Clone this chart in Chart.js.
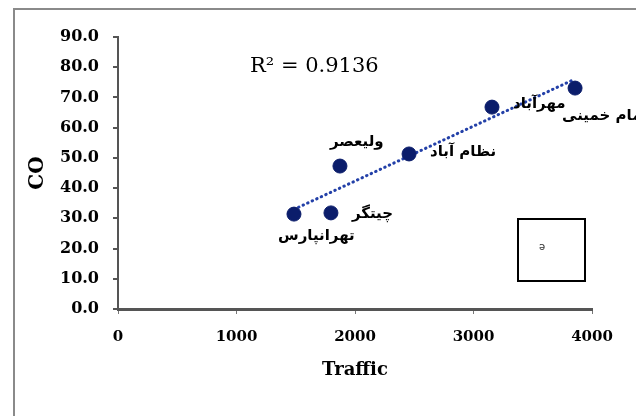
<!DOCTYPE html>
<html>
<head>
<meta charset="utf-8">
<script src="https://cdn.jsdelivr.net/npm/chart.js@4.4.0/dist/chart.umd.min.js"></script>
<style>
  html, body { margin: 0; padding: 0; background: #fff; }
  #wrap { width: 636px; height: 416px; position: relative; }
</style>
</head>
<body>
<div id="wrap"><canvas id="chart"></canvas></div>
<script>
// Data
const siteNames = ['تهرانپارس', 'چیتگر', 'ولیعصر', 'نظام آباد', 'مهرآباد', 'امام خمینی'];
const trafficValues = [1485, 1797, 1873, 2456, 3156, 3857];
const coValues = [31.4, 31.8, 47.3, 51.3, 66.8, 73.1];
const rSquaredText = 'R² = 0.9136';

// label offsets from each point (left edge, vertical centre), px
const labelOffsets = [[-16, 22], [21, 1], [-10, -24], [21, -2], [21, -3], [-13, 28]];

// Least squares trend line, like the spreadsheet trendline
const linearFit = (xs, ys) => {
    const n = xs.length;
    const mx = xs.reduce((a, b) => a + b, 0) / n;
    const my = ys.reduce((a, b) => a + b, 0) / n;
    let sxy = 0, sxx = 0;
    xs.forEach((x, i) => { sxy += (x - mx) * (ys[i] - my); sxx += (x - mx) * (x - mx); });
    const slope = sxy / sxx;
    return { slope, intercept: my - slope * mx };
};
const fit = linearFit(trafficValues, coValues);
const xMin = Math.min(...trafficValues), xMax = Math.max(...trafficValues);
const trendPoints = [xMin, xMax].map(x => ({ x, y: fit.slope * x + fit.intercept }));

const points = trafficValues.map((x, i) => ({ x, y: coValues[i] }));

const serif = '"DejaVu Serif", "Liberation Serif", serif';

// frame, R² text, site labels and the small box
const decorations = {
    id: 'decorations',
    beforeDraw(chart) {
        const ctx = chart.ctx;
        ctx.save();
        ctx.fillStyle = '#fff';
        ctx.fillRect(0, 0, chart.width, chart.height);
        ctx.strokeStyle = '#8a8a8a';
        ctx.lineWidth = 2;
        ctx.strokeRect(14, 9, 700, 500);
        ctx.restore();
    },
    afterDatasetsDraw(chart) {
        const ctx = chart.ctx;
        const xs = chart.scales.x, ys = chart.scales.y;
        ctx.save();
        ctx.fillStyle = '#000';
        ctx.font = '21px ' + serif;
        ctx.textBaseline = 'middle';
        ctx.textAlign = 'left';
        ctx.fillText(rSquaredText, 250, 67);

        ctx.font = 'bold 15px "DejaVu Sans", sans-serif';
        siteNames.forEach((name, i) => {
            const px = xs.getPixelForValue(trafficValues[i]);
            const py = ys.getPixelForValue(coValues[i]);
            ctx.fillText(name, px + labelOffsets[i][0], py + labelOffsets[i][1]);
        });

        // small boxed marker at lower right
        ctx.strokeStyle = '#000';
        ctx.lineWidth = 2;
        ctx.strokeRect(518, 219, 67, 62);
        ctx.font = '10px "DejaVu Sans", sans-serif';
        ctx.fillStyle = '#333';
        ctx.textAlign = 'center';
        ctx.fillText('ə', 542, 247);
        ctx.restore();
    }
};

const ctx = document.getElementById('chart').getContext('2d');
new Chart(ctx, {
    type: 'scatter',
    data: {
        datasets: [
            {
                label: 'CO',
                data: points,
                backgroundColor: '#0b1d6b',
                borderColor: '#0b1d6b',
                pointRadius: 7,
                pointHoverRadius: 7,
                order: 1
            },
            {
                label: 'Linear',
                type: 'line',
                data: trendPoints,
                borderColor: '#2340a8',
                borderWidth: 3,
                borderDash: [0.5, 4.5],
                borderCapStyle: 'round',
                pointRadius: 0,
                fill: false,
                order: 2
            }
        ]
    },
    options: {
        responsive: true,
        maintainAspectRatio: false,
        animation: false,
        layout: { padding: { top: 37, left: 22, right: 44, bottom: 31 } },
        plugins: {
            legend: { display: false },
            tooltip: { enabled: false }
        },
        scales: {
            x: {
                type: 'linear',
                min: 0,
                max: 4000,
                afterFit: (scale) => { scale.height = 76; },
                ticks: {
                    stepSize: 1000,
                    color: '#000',
                    padding: 14,
                    callback: (v) => String(v),
                    font: { family: serif, size: 15, weight: 'bold' }
                },
                grid: { drawOnChartArea: false, drawTicks: true, tickLength: 5, color: '#777', lineWidth: 1 },
                border: { display: true, color: '#555', width: 3 },
                title: {
                    display: true,
                    text: 'Traffic',
                    color: '#000',
                    font: { family: serif, size: 18, weight: 'bold' }
                }
            },
            y: {
                min: 0,
                max: 90,
                afterFit: (scale) => { scale.width = 96; },
                ticks: {
                    stepSize: 10,
                    color: '#000',
                    padding: 14,
                    callback: (v) => v.toFixed(1),
                    font: { family: serif, size: 16, weight: 'bold' }
                },
                grid: { drawOnChartArea: false, drawTicks: true, tickLength: 5, color: '#555', lineWidth: 2 },
                border: { display: true, color: '#555', width: 2 },
                title: {
                    display: true,
                    text: 'CO',
                    color: '#000',
                    font: { family: serif, size: 20, weight: 'bold' }
                }
            }
        }
    },
    plugins: [decorations]
});
</script>
</body>
</html>
